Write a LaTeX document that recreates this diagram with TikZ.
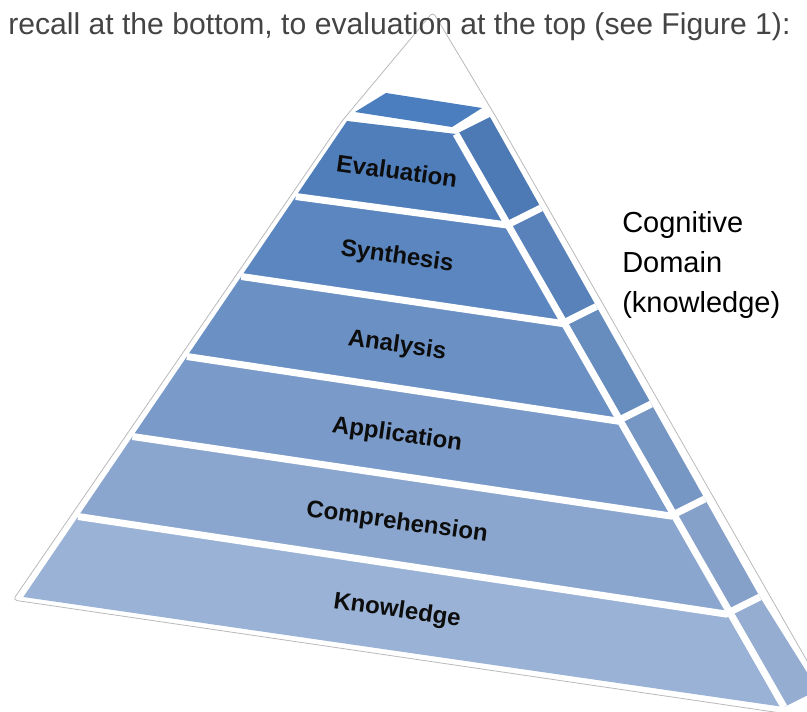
\documentclass[tikz,border=0pt]{standalone}
\usepackage{fontspec}
\setmainfont{Liberation Sans}
\usetikzlibrary{calc}

\definecolor{capblue}{HTML}{4A7EBE}
\definecolor{evalblue}{HTML}{4F7EBB}
\definecolor{synthblue}{HTML}{5B86BF}
\definecolor{analblue}{HTML}{6A90C4}
\definecolor{applblue}{HTML}{7A9BC9}
\definecolor{comprblue}{HTML}{8AA6CF}
\definecolor{knowblue}{HTML}{9AB2D6}
\definecolor{textgray}{HTML}{444444}

\begin{document}
\begin{tikzpicture}[x=0.75pt, y=-0.75pt,
    outline/.style={draw=gray!55, line width=0.6pt, rounded corners=3pt},
    gap/.style={draw=white, line width=5.25pt},
    level/.style={font=\fontsize{18}{20}\selectfont\bfseries, text=black!95, rotate=-8, inner sep=0pt},
    domaintext/.style={font=\fontsize{21.75}{30}\selectfont, align=left, inner sep=0pt},
    caption/.style={font=\fontsize{22.6}{26}\selectfont, text=textgray, inner sep=0pt}]
    \useasboundingbox (0,0) rectangle (807,711);
    \clip (0,0) rectangle (807,711);

    % Outline of the pyramid
    \draw[outline] (433,12) -- (342,121) -- (13,600) -- (842,722) -- (496,117) -- cycle;

    % Layer corners: left edge, front/side edge, side edge
    \foreach \k/\xl/\yl/\xr/\yr in {0/347/121/456/134, 1/295.7/196.5/507/225,
        2/241.3/276.5/562.4/323.5, 3/186.9/356.5/617.3/421, 4/132.5/436.5/670.8/516,
        5/78.1/516.5/725.8/614, 6/23.3/597/784/707} {
        \coordinate (L\k) at (\xl,\yl);
        \coordinate (R\k) at (\xr,\yr);
        \coordinate (S\k) at ($(R\k)+(34,-17)$);
    }

    % Top cap
    \fill[capblue] (386,93) -- (482,108) -- (452,127) -- (355,112) -- cycle;

    % Layers, front and side
    \foreach \k/\col in {0/evalblue, 1/synthblue, 2/analblue, 3/applblue, 4/comprblue, 5/knowblue} {
        \pgfmathtruncatemacro\n{\k+1}
        \fill[\col] (L\k) -- (R\k) -- (R\n) -- (L\n) -- cycle;
        \fill[\col!97!black] (R\k) -- (S\k) -- (S\n) -- (R\n) -- cycle;
    }

    % White gaps
    \foreach \k in {1,...,5} {
        \draw[gap] (L\k) -- (R\k) -- (S\k);
    }
    \draw[gap] (R0) -- (R6);

    % Labels
    \node[level] (eval) at (397,171) {Evaluation};
    \node[level] (synth) at (397,257) {Synthesis};
    \node[level] (anal) at (397,346) {Analysis};
    \node[level] (appl) at (397,435) {Application};
    \node[level] (compr) at (397,523) {Comprehension};
    \node[level] (know) at (397,611) {Knowledge};

    \node[domaintext, anchor=north west] (dom) at (622,211) {Cognitive\\Domain\\(knowledge)};

    % Running text above
    \node[caption, anchor=base west] (intro) at (8,34)
        {recall at the bottom, to evaluation at the top (see Figure 1):};
\end{tikzpicture}
\end{document}
